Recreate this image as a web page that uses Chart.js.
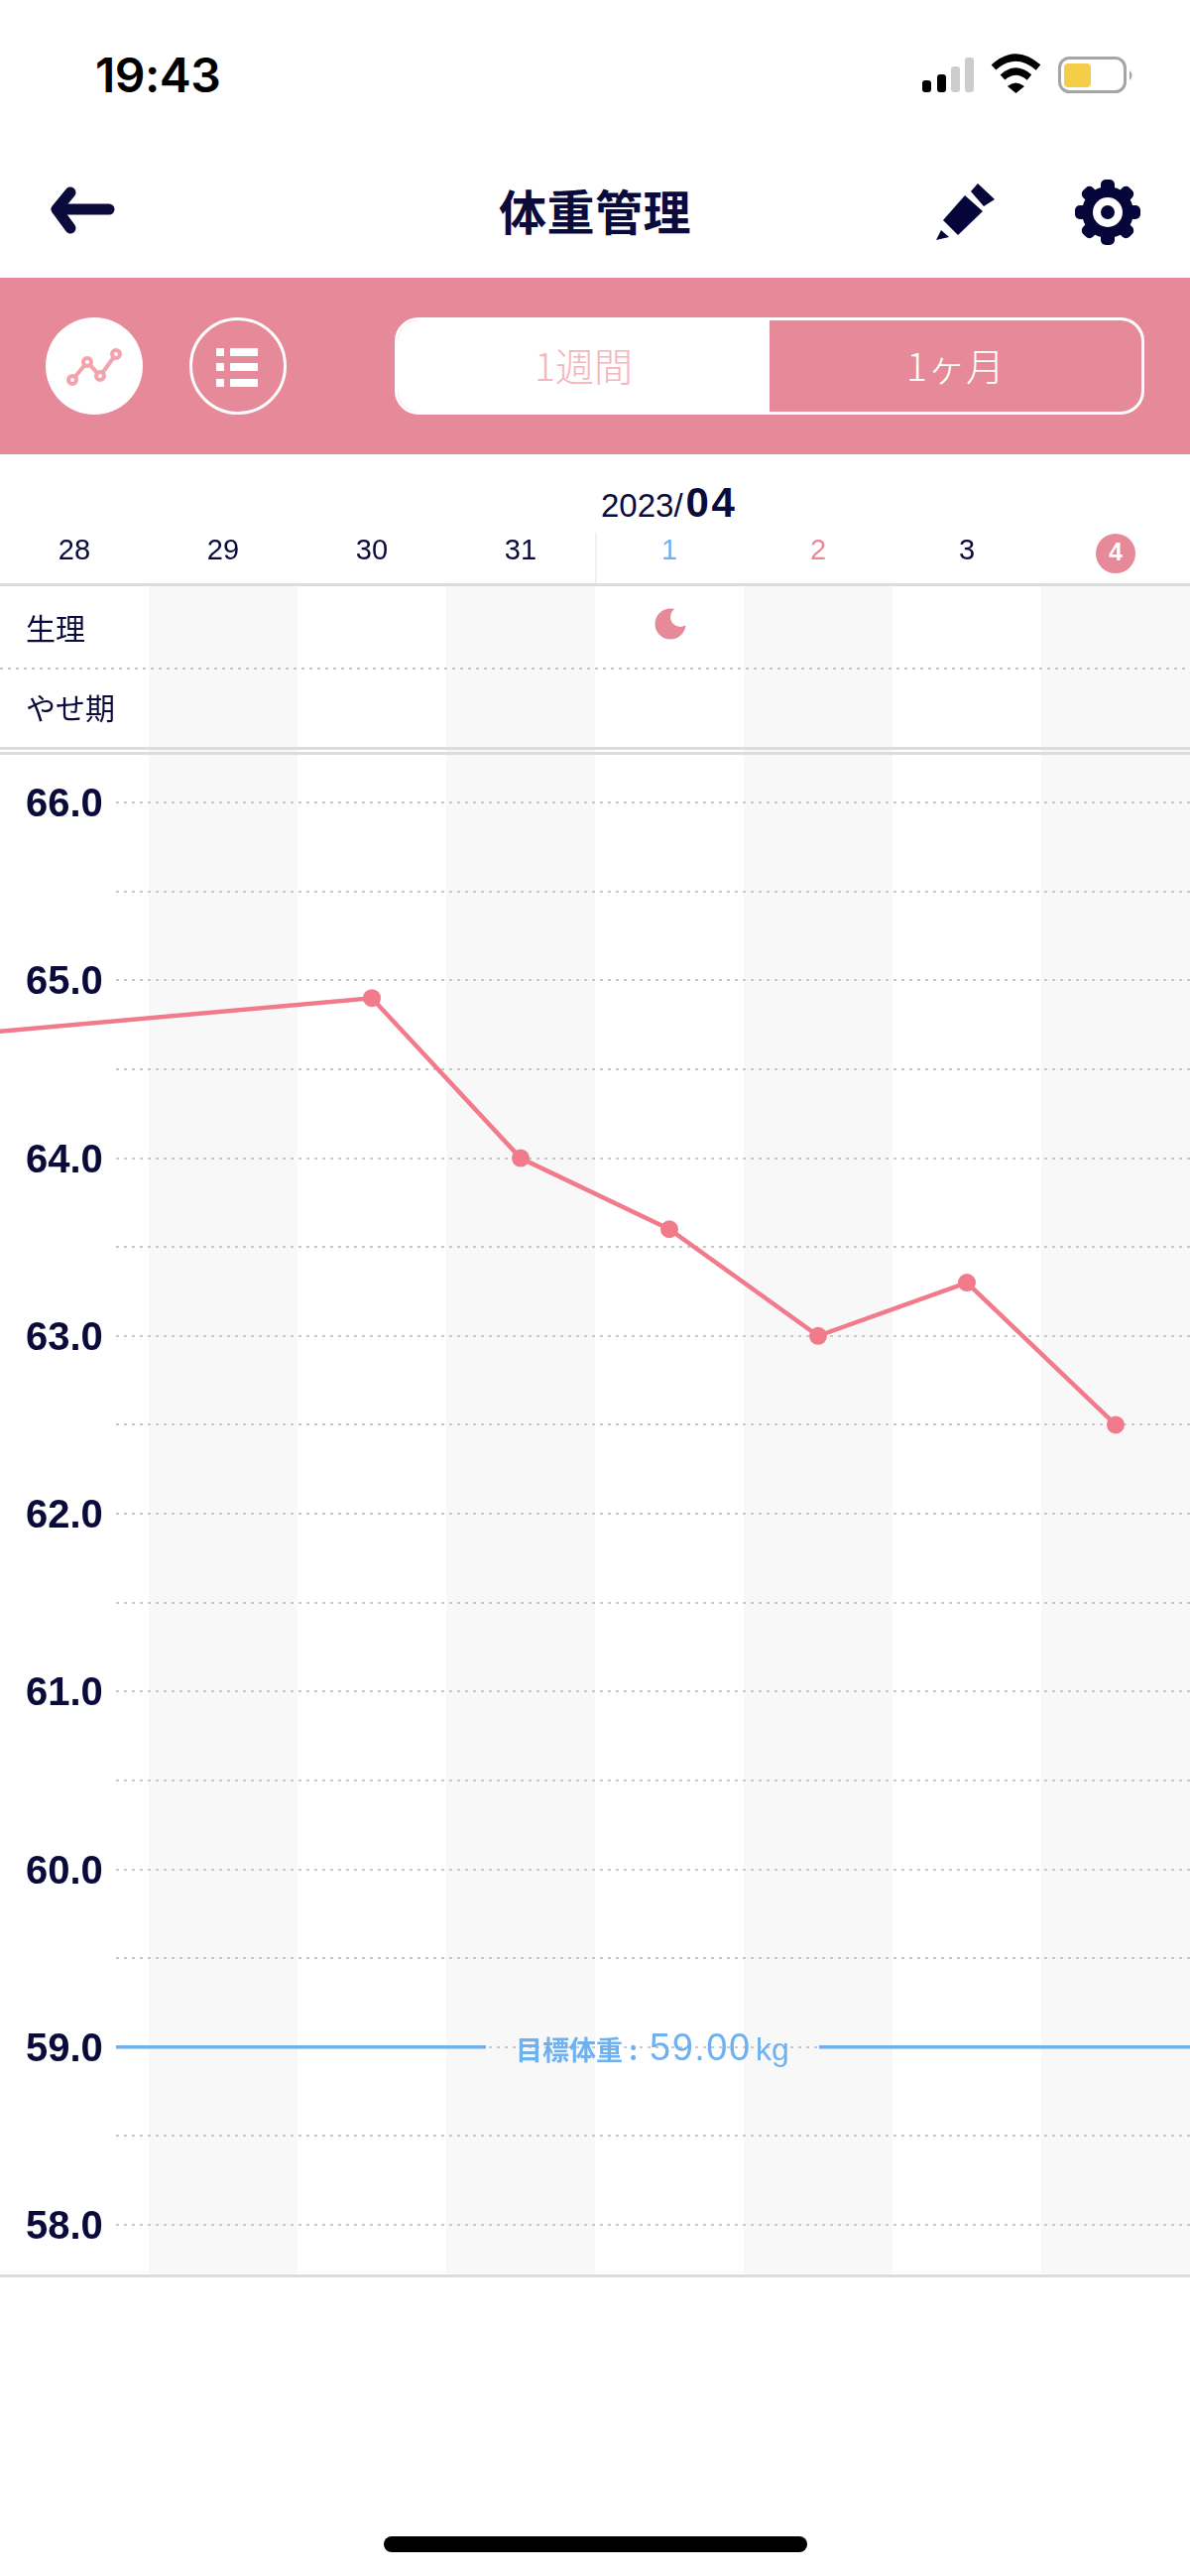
<!DOCTYPE html>
<html lang="ja">
<head>
<meta charset="utf-8">
<title>体重管理</title>
<script src="https://cdn.jsdelivr.net/npm/chart.js@4"></script>
<style>
  html, body { margin: 0; padding: 0; background: #fff; }
  body { position: relative; width: 1200px; height: 2597px; overflow: hidden; color: #0b0b3b; font-family: "Liberation Sans", "Noto Sans CJK JP", sans-serif; }
  .abs { position: absolute; }
  canvas { position: absolute; left: 0; top: 458px; }
  .time { left: 96px; top: 48px; font: 600 48px/56px Inter, sans-serif; color: #000; letter-spacing: -0.5px; }
  .title { left: 400px; width: 400px; top: 177px; text-align: center; font: 700 48px/68px "Noto Sans CJK JP", sans-serif; letter-spacing: 0.5px; }
  .band { left: 0; top: 280px; width: 1200px; height: 178px; background: #e68a99; }
  .toggle { left: 398px; top: 320px; width: 756px; height: 98px; box-sizing: border-box; border: 3px solid #fff; border-radius: 24px; overflow: hidden; }
  .toggle div { position: absolute; top: -2px; height: 92px; font: 300 39px/92px "Noto Sans CJK JP", sans-serif; text-align: center; }
  .toggle .on { left: 0; width: 375px; top: 0; height: 92px; background: #fff; color: #f5b5bd; line-height: 88px; }
  .toggle .off { left: 375px; width: 375px; color: #fff; }
  .month { left: 606px; top: 482px; white-space: nowrap; font-size: 33px; line-height: 50px; }
  .month b { font-size: 42px; letter-spacing: 2.5px; margin-left: 3px; }
  .rule { left: 0; width: 1200px; height: 3px; background: #dcdcdc; }
  .dots { left: 0; width: 1200px; height: 2px; background: repeating-linear-gradient(90deg, #c6c6c6 0 3px, transparent 3px 8px); }
  .row { left: 26px; font: 400 30px/44px "Noto Sans CJK JP", sans-serif; }
  .home { left: 387px; width: 427px; height: 16px; border-radius: 8px; background: #000; }
</style>
</head>
<body>

<div class="abs time">19:43</div>

<svg class="abs" style="left:0;top:0" width="1200" height="280">
  <rect x="930" y="81" width="9" height="12" rx="3" fill="#000"/>
  <rect x="945" y="75" width="9" height="18" rx="3" fill="#000"/>
  <rect x="959" y="67" width="9" height="26" rx="3" fill="#ccc"/>
  <rect x="973" y="58" width="9" height="35" rx="3" fill="#ccc"/>
  <g fill="none" stroke="#000" stroke-width="7">
    <path d="M1002 68 Q1024 48 1047 68"/>
    <path d="M1011 78 Q1024 66 1038 78"/>
  </g>
  <path d="M1016 87 Q1024 80 1033 87 L1024.500 94 Z" fill="#000"/>
  <rect x="1068.500" y="58.500" width="66" height="34" rx="10" fill="none" stroke="#a5a5a5" stroke-width="3"/>
  <rect x="1073" y="64" width="27" height="24" rx="4" fill="#f6cd48"/>
  <path d="M1139 71 Q1144 76 1139 81 Z" fill="#a5a5a5"/>

  <g fill="none" stroke="#0b0b3b" stroke-linecap="round" stroke-linejoin="round">
    <path d="M71 194 L57 211 L71 230" stroke-width="11"/>
    <path d="M60 211 L110 211" stroke-width="11"/>
  </g>
  <g fill="#05053a">
    <path d="M986 185 L1003 201 L992 208 L979 193 Z"/>
    <path d="M973 197 L991 213 L966 237 L951 222 Z"/>
    <path d="M949 232 L957 239 L944 242 Z"/>
  </g>
  <g fill="#05053a">
    <circle cx="1117" cy="214" r="26"/>
    <g id="teeth">
      <rect x="1110" y="181" width="14" height="66" rx="5"/>
      <rect x="1110" y="181" width="14" height="66" rx="5" transform="rotate(45 1117 214)"/>
      <rect x="1110" y="181" width="14" height="66" rx="5" transform="rotate(90 1117 214)"/>
      <rect x="1110" y="181" width="14" height="66" rx="5" transform="rotate(135 1117 214)"/>
    </g>
  </g>
  <circle cx="1117" cy="214" r="15" fill="#fff"/>
  <circle cx="1117" cy="214" r="7" fill="#05053a"/>
</svg>

<div class="abs title">体重管理</div>

<div class="abs band"></div>
<svg class="abs" style="left:0;top:280px" width="400" height="178" viewBox="0 280 400 178">
  <circle cx="95" cy="369" r="49" fill="#fff"/>
  <path d="M73 383 L88 365 L101 379 L117 357" fill="none" stroke="#f2a3ac" stroke-width="4"/>
  <g fill="#fff" stroke="#f2a3ac" stroke-width="4">
    <circle cx="73" cy="383" r="4"/>
    <circle cx="88" cy="365" r="4"/>
    <circle cx="101" cy="379" r="4"/>
    <circle cx="117" cy="357" r="4"/>
  </g>
  <circle cx="240" cy="369" r="47.500" fill="none" stroke="#fff" stroke-width="3"/>
  <g fill="#fff">
    <rect x="218" y="351" width="8" height="8"/><rect x="232" y="351" width="28" height="8"/>
    <rect x="218" y="366" width="8" height="8"/><rect x="232" y="366" width="28" height="8"/>
    <rect x="218" y="382" width="8" height="8"/><rect x="232" y="382" width="28" height="8"/>
  </g>
</svg>
<div class="abs toggle">
  <div class="on">1週間</div>
  <div class="off">1ヶ月</div>
</div>

<div class="abs month">2023/<b>04</b></div>

<canvas id="weightChart" width="1200" height="1834"></canvas>

<div class="abs rule" style="top:588px"></div>
<div class="abs dots" style="top:673px"></div>
<div class="abs rule" style="top:753px"></div>
<div class="abs rule" style="top:758px"></div>
<div class="abs rule" style="top:2293px"></div>
<div class="abs row" style="top:610px">生理</div>
<div class="abs row" style="top:690px">やせ期</div>
<div class="abs home" style="top:2557px"></div>

<script>
// values
const dayLabels = ['26', '27', '28', '29', '30', '31', '1', '2', '3', '4']
const firstDay = '28'
const lastDay = '4'
const shadedDays = ['29', '31', '2', '4']
const periodDays = ['1']
const todayLabel = '4'
const monthStart = '1'

// the line enters from a reading left of the visible window
const measuredDays = ['26', '30', '31', '1', '2', '3', '4']
const measuredWeights = [64.6, 64.9, 64.0, 63.6, 63.0, 63.3, 62.5]

const weightTicks = [58, 58.5, 59, 59.5, 60, 60.5, 61, 61.5, 62, 62.5, 63, 63.5, 64, 64.5, 65, 65.5, 66]
const weightMin = 57.727
const weightMax = 67.222
const targetWeight = 59

const navy = '#0b0b3b'
const pink = '#e68a99'
const lineColor = '#f17a8b'
const blue = '#6fb1ef'

function dayColor(label) {
  if (label === '1') return blue
  if (label === '2') return pink
  if (label === todayLabel) return '#fff'
  return navy
}

// mirrored labels must not push the chart area in from the canvas edges
function dropPadding(scale) {
  scale.paddingLeft = 0
  scale.paddingRight = 0
  scale.paddingTop = 0
  scale.paddingBottom = 0
}

const backdropPlugin = {
  id: 'backdrop',
  beforeDraw(chart) {
    const { ctx, chartArea, scales: { x } } = chart
    const colWidth = x.width / 8

    // alternate column shading
    ctx.save()
    ctx.fillStyle = '#f8f8f8'
    shadedDays.forEach(day => {
      const cx = x.getPixelForValue(dayLabels.indexOf(day))
      ctx.fillRect(cx - colWidth / 2, chartArea.top, colWidth, chartArea.height)
    })

    // today marker behind its tick label
    const todayX = x.getPixelForValue(dayLabels.indexOf(todayLabel))
    ctx.fillStyle = pink
    ctx.beginPath()
    ctx.arc(todayX, chartArea.top - 32, 20, 0, Math.PI * 2)
    ctx.fill()

    // month boundary
    const boundX = x.getPixelForValue(dayLabels.indexOf(monthStart)) - colWidth / 2
    ctx.fillStyle = '#eeeeee'
    ctx.fillRect(boundX, chartArea.top - 53, 1.5, 53)

    // period moon
    periodDays.forEach(day => {
      const cx = x.getPixelForValue(dayLabels.indexOf(day)) + 1
      const cy = chartArea.top + 39
      ctx.fillStyle = pink
      ctx.beginPath()
      ctx.arc(cx, cy, 15.5, 0, Math.PI * 2)
      ctx.fill()
      ctx.fillStyle = '#fff'
      ctx.beginPath()
      ctx.arc(cx + 10, cy - 7, 10, 0, Math.PI * 2)
      ctx.fill()
    })
    ctx.restore()
  },
  beforeDatasetsDraw(chart) {
    const { ctx, chartArea, scales: { y } } = chart
    const gridLeft = 117

    ctx.save()
    ctx.strokeStyle = '#c8c8c8'
    ctx.lineWidth = 2
    ctx.setLineDash([3, 5])
    weightTicks.forEach(value => {
      const py = Math.round(y.getPixelForValue(value))
      ctx.beginPath()
      ctx.moveTo(gridLeft, py)
      ctx.lineTo(chartArea.right, py)
      ctx.stroke()
    })
    ctx.setLineDash([])

    // target line, broken around its label
    const targetY = y.getPixelForValue(targetWeight)
    ctx.strokeStyle = blue
    ctx.lineWidth = 3.5
    ctx.beginPath()
    ctx.moveTo(gridLeft, targetY)
    ctx.lineTo(490, targetY)
    ctx.moveTo(826, targetY)
    ctx.lineTo(chartArea.right, targetY)
    ctx.stroke()

    ctx.fillStyle = blue
    ctx.textBaseline = 'alphabetic'
    ctx.textAlign = 'left'
    const baseY = targetY + 13
    ctx.font = '700 27px "Noto Sans CJK JP"'
    ctx.fillText('目標体重 :', 520, baseY)
    ctx.font = '38px "Liberation Sans"'
    ctx.letterSpacing = '1.5px'
    ctx.fillText(targetWeight.toFixed(2), 655, baseY)
    ctx.letterSpacing = '0px'
    ctx.font = '32px "Liberation Sans"'
    ctx.fillText('kg', 762, baseY)
    ctx.restore()
  }
}

new Chart(document.getElementById('weightChart'), {
  type: 'line',
  plugins: [backdropPlugin],
  data: {
    labels: dayLabels,
    datasets: [{
      data: measuredDays.map((day, i) => ({ x: day, y: measuredWeights[i] })),
      borderColor: lineColor,
      backgroundColor: lineColor,
      borderWidth: 4.5,
      pointRadius: 9,
      pointBorderWidth: 0,
      tension: 0
    }]
  },
  options: {
    responsive: false,
    animation: false,
    devicePixelRatio: 1,
    // point overflow padding would inset the columns from the canvas edges
    layout: { autoPadding: false },
    plugins: { legend: { display: false }, tooltip: { enabled: false } },
    scales: {
      x: {
        type: 'category',
        position: 'top',
        min: firstDay,
        max: lastDay,
        offset: true,
        border: { display: false },
        grid: { display: false, drawTicks: false },
        afterFit: scale => { scale.height = 132; dropPadding(scale) },
        ticks: {
          autoSkip: false,
          maxRotation: 0,
          padding: 17,
          color: ctx => dayColor(dayLabels[ctx.tick.value]),
          font: ctx => dayLabels[ctx.tick.value] === todayLabel
            ? { family: 'Liberation Sans', size: 25, weight: 'bold' }
            : { family: 'Liberation Sans', size: 29 }
        }
      },
      y: {
        min: weightMin,
        max: weightMax,
        border: { display: false },
        grid: { display: false, drawTicks: false },
        afterBuildTicks: axis => { axis.ticks = weightTicks.map(value => ({ value })) },
        afterFit: scale => { scale.width = 0; dropPadding(scale) },
        ticks: {
          mirror: true,
          autoSkip: false,
          padding: 26,
          labelOffset: 3,
          color: navy,
          font: { family: 'Liberation Sans', size: 40, weight: 'bold' },
          callback: value => Number.isInteger(value) ? value.toFixed(1) : ''
        }
      }
    }
  }
})
</script>
</body>
</html>
